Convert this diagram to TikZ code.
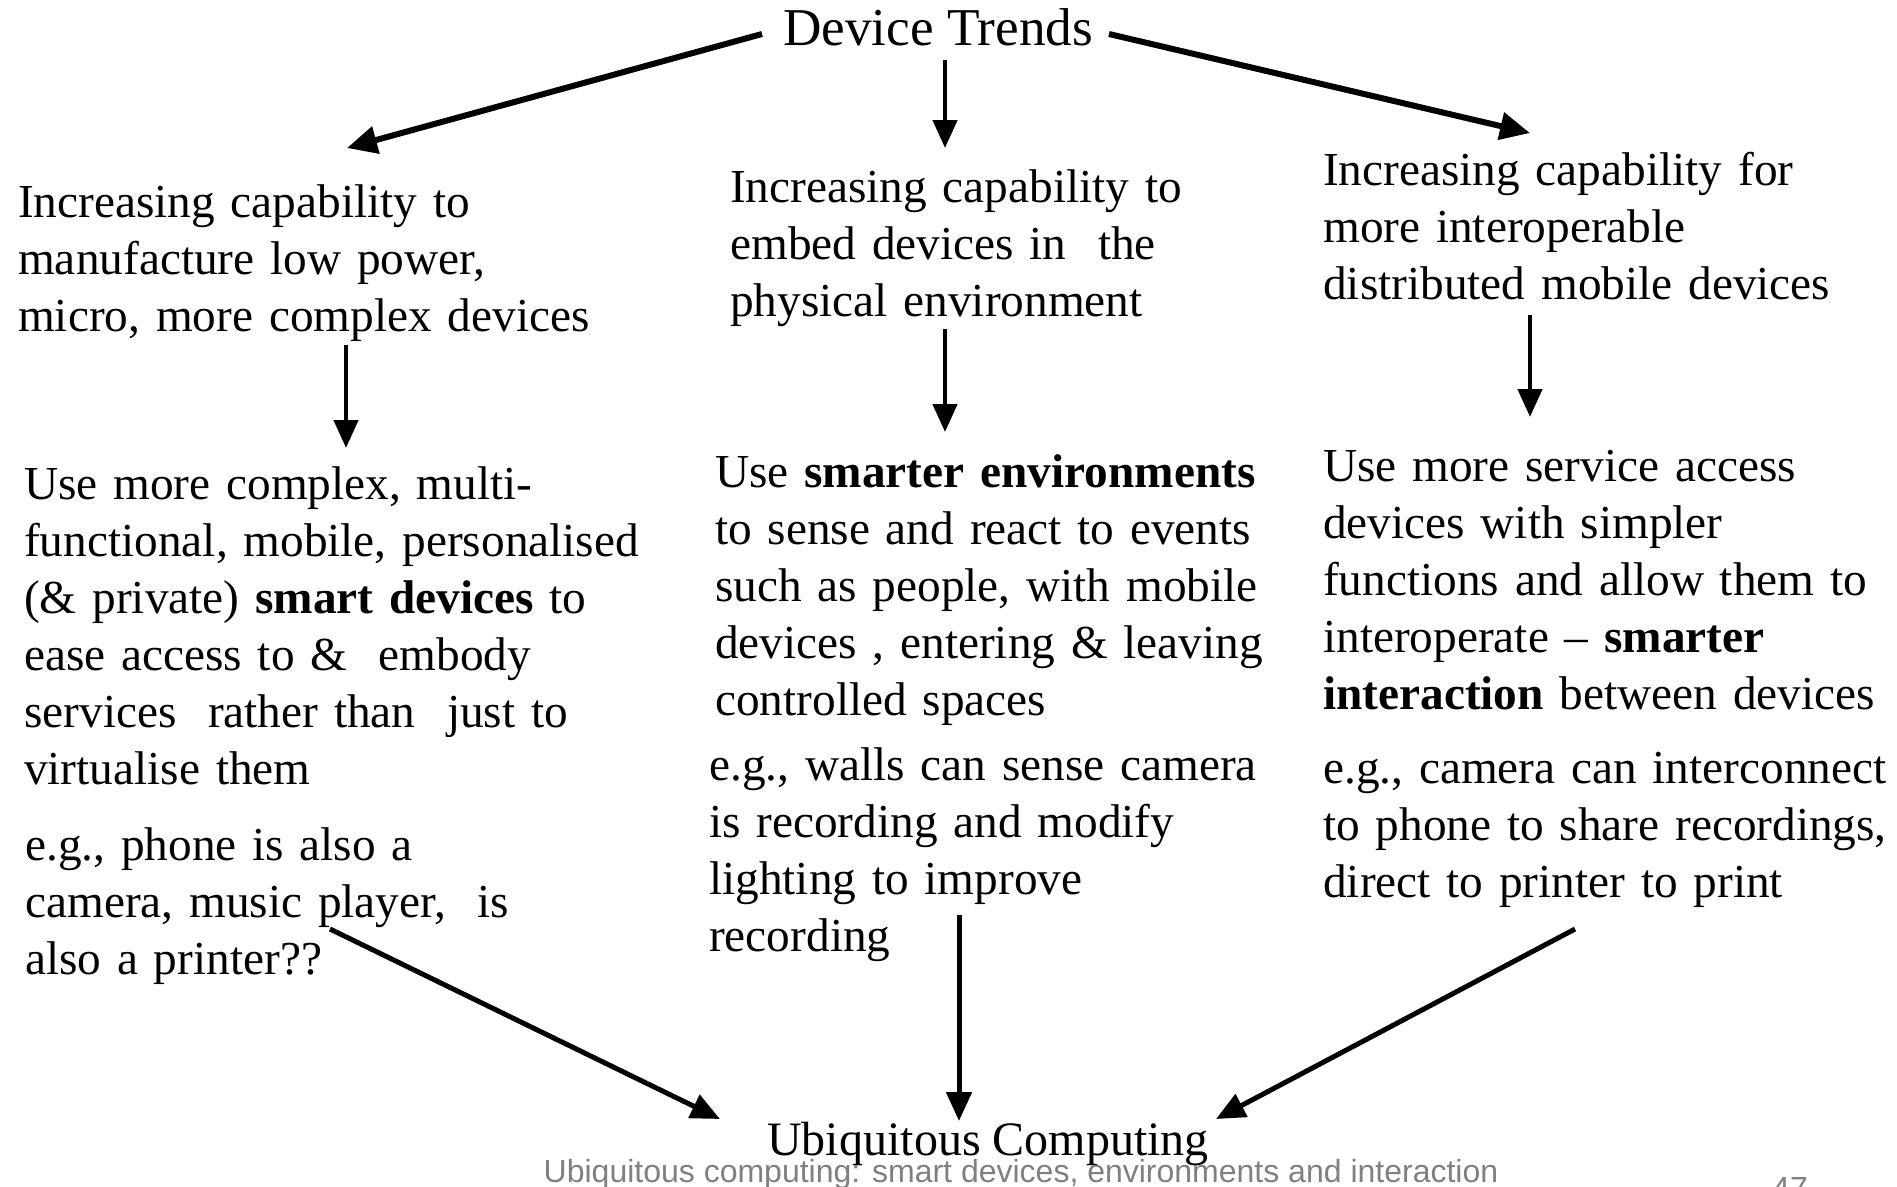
\documentclass[tikz,border=0pt]{standalone}
\usepackage{fontspec}
\setmainfont{Liberation Serif}
\setsansfont{Liberation Sans}
\usetikzlibrary{arrows.meta}

\begin{document}
\begin{tikzpicture}[x=1pt,y=-1pt,
  body/.style={anchor=base west, inner sep=0pt, align=left,
    font=\fontsize{47.3}{57}\selectfont},
  heading/.style={anchor=base, inner sep=0pt, font=\fontsize{48}{57}\selectfont},
  foot/.style={inner sep=0pt, text=black!50, font=\sffamily\fontsize{32}{38}\selectfont},
  arr/.style={-{Triangle[length=29pt,width=25pt]}, line width=5pt},
  arrthin/.style={-{Triangle[length=28pt,width=24pt]}, line width=4.5pt},
  arrthick/.style={-{Triangle[length=30pt,width=27pt]}, line width=6pt}]

\useasboundingbox (0,0) rectangle (1897,1186);

% top and bottom titles
\node[heading, font=\fontsize{53.2}{60}\selectfont] (trends) at (938,45) {Device Trends};
\node[heading] (ubi) at (988,1155) {Ubiquitous Computing};

% first row: capabilities
\node[body, text width=660pt] (capA) at (18,217)
  {Increasing capability to\\manufacture low power,\\micro, more complex devices};
\node[body, text width=580pt] (capB) at (730,202)
  {Increasing capability to\\embed devices in~ the\\physical environment};
\node[body, text width=574pt] (capC) at (1323,185)
  {Increasing capability for\\more interoperable\\distributed mobile devices};

% second row: consequences
\node[body, text width=680pt] (useA) at (24,499)
  {Use more complex, multi-\\functional, mobile, personalised\\(\& private) \textbf{smart devices} to\\ease access to \&~ embody\\services~ rather than~ just to\\virtualise them};
\node[body, text width=580pt] (useB) at (715,487)
  {Use \textbf{smarter environments}\\to sense and react to events\\such as people, with mobile\\devices , entering \& leaving\\controlled spaces};
\node[body, text width=574pt] (useC) at (1323,481)
  {Use more service access\\devices with simpler\\functions and allow them to\\interoperate – \textbf{smarter}\\\textbf{interaction} between devices};

% third row: examples
\node[body, text width=660pt] (egA) at (25,860)
  {e.g., phone is also a\\camera, music player,~ is\\also a printer??};
\node[body, text width=580pt] (egB) at (709,780)
  {e.g., walls can sense camera\\is recording and modify\\lighting to improve\\recording};
\node[body, text width=574pt] (egC) at (1323,783)
  {e.g., camera can interconnect\\to phone to share recordings,\\direct to printer to print};

% footer
\node[foot, anchor=base] (footer) at (1021,1182)
  {Ubiquitous computing: smart devices, environments and interaction};
\node[foot, anchor=base west] (pageno) at (1772,1199) {47};

% connector end points
\coordinate (tL) at (762,34);   \coordinate (hL) at (347,148);
\coordinate (tM) at (945,60);   \coordinate (hM) at (945,148);
\coordinate (tR) at (1109,34);  \coordinate (hR) at (1530,133);
\coordinate (aA) at (346,345);  \coordinate (bA) at (346,448);
\coordinate (aB) at (945,329);  \coordinate (bB) at (945,432);
\coordinate (aC) at (1530,315); \coordinate (bC) at (1530,417);
\coordinate (eA) at (330,929);  \coordinate (uA) at (720,1119);
\coordinate (eB) at (959,915);  \coordinate (uB) at (959,1121);
\coordinate (eC) at (1575,929); \coordinate (uC) at (1216,1119);

% arrows
\draw[arrthick] (tL) -- (hL);
\draw[arrthin]  (tM) -- (hM);
\draw[arrthick] (tR) -- (hR);
\draw[arrthin]  (aA) -- (bA);
\draw[arrthin]  (aB) -- (bB);
\draw[arrthin]  (aC) -- (bC);
\draw[arr] (eA) -- (uA);
\draw[arr] (eB) -- (uB);
\draw[arr] (eC) -- (uC);
\end{tikzpicture}
\end{document}
